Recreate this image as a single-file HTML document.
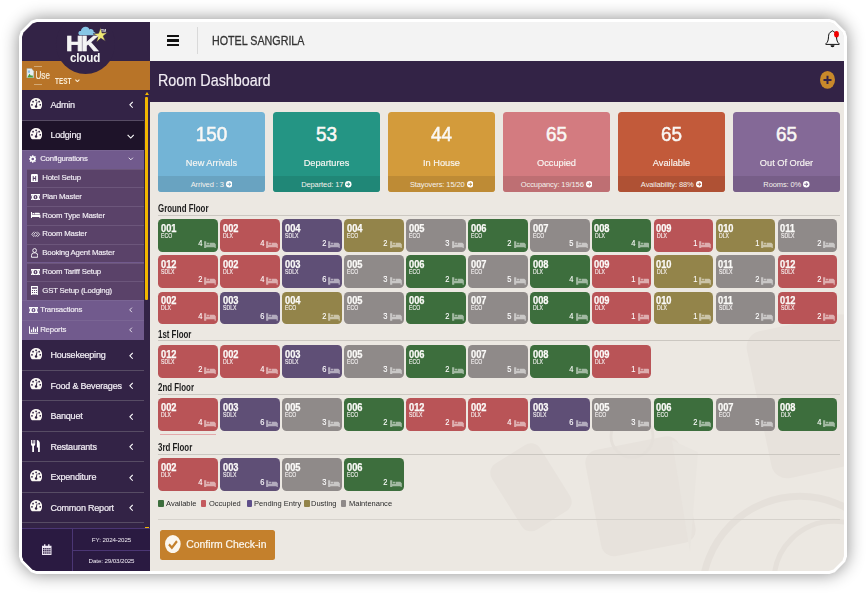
<!DOCTYPE html>
<html><head><meta charset="utf-8"><title>Room Dashboard</title>
<style>
*{box-sizing:border-box;margin:0;padding:0}
html,body{width:866px;height:593px;overflow:hidden;background:#fff;font-family:"Liberation Sans",sans-serif}
.shadow{position:absolute;left:0;top:0;width:866px;height:593px;filter:drop-shadow(0 0 8.5px rgba(0,0,0,.46))}
.outer{position:absolute;left:19px;top:19px;width:828px;height:555px;background:#fff;clip-path:polygon(0.0px 17.5px,1.8px 12.2px,12.2px 1.8px,17.5px 0.0px,810.5px 0.0px,815.8px 1.8px,826.2px 12.2px,828.0px 17.5px,828.0px 537.5px,826.2px 542.8px,815.8px 553.2px,810.5px 555.0px,17.5px 555.0px,12.2px 553.2px,1.8px 542.8px,0.0px 537.5px)}
.frame{position:absolute;left:3px;top:3px;width:822px;height:549px;overflow:hidden;background:#ece8e2;clip-path:polygon(0.0px 15.0px,1.5px 10.5px,10.5px 1.5px,15.0px 0.0px,807.0px 0.0px,811.5px 1.5px,820.5px 10.5px,822.0px 15.0px,822.0px 534.0px,820.5px 538.5px,811.5px 547.5px,807.0px 549.0px,15.0px 549.0px,10.5px 547.5px,1.5px 538.5px,0.0px 534.0px)}
.in{position:absolute;left:-22px;top:-22px;width:866px;height:593px}
.in>*{position:absolute}
.side{left:22px;top:22px;width:128px;height:549px;background:#332346}
.topbar{left:150px;top:22px;width:694px;height:38.500px;background:#f3f3f3}
.titlebar{left:150px;top:60.500px;width:694px;height:41.200px;background:#332346}
.userband{left:22px;top:60.500px;width:128px;height:29px;background:#b87428}
.logoc{left:55.500px;top:14.300px;width:59.600px;height:59.600px;border-radius:50%;background:#332346}
.hk{left:65.600px;top:33.200px;font-weight:bold;font-size:22px;line-height:22px;color:#f4f4f4;letter-spacing:-1.700px;transform:scaleX(1.08);transform-origin:0 0;-webkit-text-stroke:.7px #f4f4f4}
.cloudt{left:69.600px;top:51px;font-weight:bold;font-size:13.400px;line-height:14px;color:#f4f4f4;letter-spacing:-.2px;transform:scaleX(.87);transform-origin:0 0}
.tm{left:101px;top:28.500px;font-size:3.500px;line-height:4px;color:#eee;font-weight:bold}
.use{left:26.400px;top:66px;width:28.700px;height:18px;overflow:hidden;color:#f6ecd9;font-size:10px;line-height:20px;white-space:nowrap;-webkit-text-stroke:.2px #f6ecd9;transform:scaleX(.82);transform-origin:0 0}
.useb{left:34px;width:7.500px;height:1px;background:#d9b88a;opacity:.8}
.use svg{width:12.500px;height:10.500px;vertical-align:.8px;margin-right:0;margin-left:-1px}
.test{left:55.100px;top:75.900px;color:#fbeed8;font-size:9px;font-weight:bold;line-height:11px;transform:scaleX(.71);transform-origin:0 0;white-space:nowrap}
.testc{left:75px;top:79px;width:4.800px;height:3.300px}
.mi{left:22px;width:122px;color:#fff}
.mi span{position:absolute;left:28.400px;top:50%;margin-top:-5.700px;font-size:9px;line-height:12px;white-space:nowrap;letter-spacing:-.2px;color:#f2eef5;-webkit-text-stroke:.2px #f2eef5}
.dash{position:absolute;left:8.200px;top:50%;margin-top:-7px;width:12.200px;height:11.700px}
.mi .chv{position:absolute;right:10.800px;top:50%;margin-top:-3.300px;width:4.600px;height:7.600px}
.msep{left:22px;width:122px;height:1px;background:#574c64}
.subbg{position:absolute;left:22px;top:149.500px;width:122px;height:190.500px;background:#715a8d}
.st,.si{color:#fff;font-size:7.800px;letter-spacing:-.2px;-webkit-text-stroke:.15px #f3eff6}
.st{left:22px;width:122px;border-top:1px solid #7a6594}
.si{left:26.700px;width:117.300px;background:#5a4269;border-top:1px solid #6c567b}
.st span,.si span{position:absolute;top:50%;margin-top:-5.300px;line-height:10px;white-space:nowrap;color:#f3eff6}
.st span{left:18.200px} .si span{left:15.600px}
.st em,.si em{position:absolute;top:50%;margin-top:-4.500px;height:8px;width:12px;display:block}
.st em{left:6.500px} .si em{left:4.500px}
.st em svg,.si em svg{width:7.500px;height:8px;display:block}
.schv{position:absolute;right:10.300px;top:50%;margin-top:-2.400px;width:5.600px;height:3.800px}
.sbtrack{left:144px;top:89.500px;width:6px;height:439px;background:#332346}
.sbthumb{left:145.300px;top:97px;width:3.200px;height:203px;background:#f2b600;border-radius:1px}
.sbup{left:144.800px;top:91.500px;width:0;height:0;border-left:2.200px solid transparent;border-right:2.200px solid transparent;border-bottom:3.500px solid #f2b600}
.sbdn{left:145px;top:526.500px;width:4px;height:1.500px;background:#f2b600}
.bot{left:22px;top:528.400px;width:128px;height:43px;background:#2a1a41;border-top:1px solid #4b3674}
.botv{left:72.300px;top:528.400px;width:1px;height:43px;background:#4b3674}
.both{left:72.300px;top:550px;width:78px;height:1px;background:#4b3674}
.bt{left:73px;width:77px;text-align:center;color:#f0ecf4;font-size:6.200px;line-height:8px;letter-spacing:-.1px}
.cal{left:42.300px;top:543.500px;width:9.500px;height:11.500px}
.ham{left:166.700px;top:34.700px;width:12.800px;height:11.800px}
.ham i{display:block;height:2.600px;background:#111;margin-bottom:2px;border-radius:.3px}
.tdiv{left:197px;top:27px;width:1px;height:26.500px;background:#d9d9d9}
.hotel{left:212.300px;top:33.800px;font-size:13px;line-height:14px;color:#333;white-space:nowrap;-webkit-text-stroke:.3px #333;transform:scaleX(.824);transform-origin:0 0}
.title{left:158px;top:70px;font-size:16.200px;line-height:20px;color:#f3eef5;white-space:nowrap;transform:scaleX(.887);transform-origin:0 0;-webkit-text-stroke:.15px #f3eef5}
.bell{left:825px;top:30.400px;width:15px;height:18px}
.plus{left:819.700px;top:71px;width:15px;height:17.800px}
.card{top:111.800px;width:107px;height:80.200px;border-radius:3.500px;overflow:hidden;color:#fff;text-align:center}
.num{position:absolute;left:0;right:0;top:9px;font-size:21px;line-height:26px;color:#faf8f5;transform:scaleX(.90);-webkit-text-stroke:.55px #faf8f5}
.lab{position:absolute;left:0;right:0;top:44px;font-size:9.400px;line-height:13px;color:#f8f6f2;transform:scaleX(.985);-webkit-text-stroke:.15px #f8f6f2}
.foot{position:absolute;left:0;right:0;bottom:0;height:16px;line-height:18.400px;font-size:7.500px}
.foot span{color:#f4f1ec;vertical-align:top;letter-spacing:-.1px}
.arr{width:6.500px;height:6.500px;vertical-align:-.7px;margin-left:2px}
.fh{left:158px;font-weight:bold;font-size:10px;line-height:12px;color:#1c1c1c;white-space:nowrap;transform:scaleX(.79);transform-origin:0 0}
.hl{left:158px;width:682px;height:1px;background:#cbc7c1}
.tile{width:59.800px;height:32.800px;border-radius:4.500px;color:#fff}
.tile b{position:absolute;left:2.800px;top:3.800px;font-size:10px;line-height:11px;color:#fbfaf8;transform:scaleX(.93);transform-origin:0 0;-webkit-text-stroke:.25px #fbfaf8}
.tile i{position:absolute;left:3px;top:12.700px;font-style:normal;font-size:6.700px;line-height:7px;color:#f8f5f5;transform:scaleX(.77);transform-origin:0 0;-webkit-text-stroke:.12px #f8f5f5}
.tile span{position:absolute;right:15.800px;top:21px;font-size:8.200px;line-height:8px;color:#fff;transform:scaleX(.92);transform-origin:100% 0;-webkit-text-stroke:.1px #fff}
.bed{position:absolute;right:2.100px;top:21.500px;width:11.900px;height:7.800px;fill:#fff;opacity:.52}
.leg{top:498.200px;font-size:8px;line-height:11px;color:#2c2c2c;white-space:nowrap;transform:scaleX(.94);transform-origin:0 0}
.lsq{top:500.200px;width:5.400px;height:6.500px;border-radius:1px}
.btn{left:160px;top:529.800px;width:114.800px;height:30px;background:#c4802c;border-radius:2.500px}
.btn span{position:absolute;left:26.200px;top:8.500px;font-size:10.400px;line-height:13px;color:#fbf6ee;white-space:nowrap;letter-spacing:0;-webkit-text-stroke:.2px #fbf6ee}
.btn svg{position:absolute;left:5.300px;top:5px;width:15.700px;height:18.200px}
.pinkl{left:160px;top:433.900px;width:55.600px;height:1.200px;background:#e3a9ab}
.bgs{left:150px;top:101.700px;width:694px;height:470px;overflow:hidden}
</style></head><body>
<div class="shadow"><div class="outer"><div class="frame"><div class="in">
<svg class="bgs" viewBox="150 101.700 694 470">
<g fill="#e7e2dc">
<rect x="502.500" y="448" width="57" height="78" rx="11" transform="rotate(-32 531 487)"/>
<rect x="592.500" y="442" width="96" height="108" rx="13" transform="rotate(-11 640.500 496)"/>
<rect x="758" y="321" width="112" height="150" rx="16" transform="rotate(-12 814 396)"/>
</g>
<path d="M672 440 L698 452 L690 552 Z" fill="#e9e5df"/>
<g fill="none" stroke="#e5e0da">
<circle cx="632" cy="436" r="21" stroke-width="2.800"/>
<circle cx="800" cy="594" r="98" stroke-width="7"/>
<circle cx="834" cy="581" r="60" stroke-width="5"/>
</g>
</svg>
<div class="side"></div>
<div class="topbar"></div>
<div class="titlebar"></div>
<div class="userband"></div>
<div class="logoc"></div>
<svg style="left:76.800px;top:24px;width:34px;height:24px" viewBox="76 24 34 24">
<path d="M79.500 35.200c-1.600 0-2.500-1.400-2-2.700.4-1.100 1.400-1.600 2.400-1.400.2-2.600 2.400-4.400 4.800-4.300 1.900.1 3.300 1.200 3.900 2.700 1-.6 2.300-.5 3.200.3.700.6 1 1.400.9 2.200 1.300.1 2.200 1 2.200 2 0 .7-.6 1.200-1.300 1.200z" fill="#87c6e6"/>
<path d="M99.600 27.600l1.500 5.400 5.500-.4-4.400 3.500 2.300 5.200-4.700-3-4.200 3.800 1.300-5.600-4.900-2.700 5.600-.6z" fill="#efe873" stroke="#332346" stroke-width=".6"/>
</svg>
<div class="hk">HK</div>
<div class="cloudt">cloud</div>
<div class="tm">TM</div>
<div class="use"><svg viewBox="0 0 18 20"><path d="M1 1h11l5 5v13H1z" fill="#e8eef0" stroke="#9aa" stroke-width="1"/><path d="M2 18l5-7 4 4 2-2 3 5z" fill="#4a9a3a"/><circle cx="6" cy="7" r="2.500" fill="#8bc0ea"/></svg>User</div>
<div class="test">TEST</div><svg class="testc" viewBox="0 0 12 8"><path d="M1 1.500 6 6.500l5-5" fill="none" stroke="#fbeed8" stroke-width="2.600"/></svg><div class="useb" style="top:65.800px"></div><div class="useb" style="top:83.500px"></div>
<div class="mi" style="top:89.5px;height:30px;background:#332346"><svg class="dash" viewBox="0 0 24 23"><path d="M12 0C5.400 0 0 5.400 0 12.500c0 3 .9 5.700 2.400 8 .4.900 1.100 1.500 2 1.500h15.200c.9 0 1.600-.6 2-1.500 1.500-2.300 2.400-5 2.400-8C24 5.400 18.600 0 12 0z" fill="#fbf8f4"/><g fill="#2b1b3b"><circle cx="12" cy="4.600" r="1.700"/><circle cx="6" cy="7.200" r="1.700"/><circle cx="18" cy="7.200" r="1.700"/><circle cx="3.900" cy="13.400" r="1.700"/><circle cx="20.100" cy="13.400" r="1.700"/><circle cx="12" cy="16.600" r="2.400"/><path d="M11 16 13.300 6.800l1.500.4L13 16.800z"/></g></svg><span>Admin</span><svg class="chv" viewBox="0 0 8 12"><path d="M6.500 1 1.500 6l5 5" fill="none" stroke="#fff" stroke-width="1.800"/></svg></div>
<div class="mi" style="top:120.5px;height:29px;background:#1e1329"><svg class="dash" viewBox="0 0 24 23"><path d="M12 0C5.400 0 0 5.400 0 12.500c0 3 .9 5.700 2.400 8 .4.900 1.100 1.500 2 1.500h15.200c.9 0 1.600-.6 2-1.500 1.500-2.300 2.400-5 2.400-8C24 5.400 18.600 0 12 0z" fill="#fbf8f4"/><g fill="#2b1b3b"><circle cx="12" cy="4.600" r="1.700"/><circle cx="6" cy="7.200" r="1.700"/><circle cx="18" cy="7.200" r="1.700"/><circle cx="3.900" cy="13.400" r="1.700"/><circle cx="20.100" cy="13.400" r="1.700"/><circle cx="12" cy="16.600" r="2.400"/><path d="M11 16 13.300 6.800l1.500.4L13 16.800z"/></g></svg><span>Lodging</span><svg class="chv" style="width:7.400px;height:5px;margin-top:-1.500px;right:9.600px" viewBox="0 0 12 8"><path d="M1 1.500 6 6.500l5-5" fill="none" stroke="#fff" stroke-width="1.800"/></svg></div>
<div class="mi" style="top:339.7px;height:30.5px;background:#332346"><svg class="dash" viewBox="0 0 24 23"><path d="M12 0C5.400 0 0 5.400 0 12.500c0 3 .9 5.700 2.400 8 .4.900 1.100 1.500 2 1.500h15.200c.9 0 1.600-.6 2-1.500 1.500-2.300 2.400-5 2.400-8C24 5.400 18.600 0 12 0z" fill="#fbf8f4"/><g fill="#2b1b3b"><circle cx="12" cy="4.600" r="1.700"/><circle cx="6" cy="7.200" r="1.700"/><circle cx="18" cy="7.200" r="1.700"/><circle cx="3.900" cy="13.400" r="1.700"/><circle cx="20.100" cy="13.400" r="1.700"/><circle cx="12" cy="16.600" r="2.400"/><path d="M11 16 13.300 6.800l1.500.4L13 16.800z"/></g></svg><span>Housekeeping</span><svg class="chv" viewBox="0 0 8 12"><path d="M6.500 1 1.500 6l5 5" fill="none" stroke="#fff" stroke-width="1.800"/></svg></div>
<div class="mi" style="top:370.2px;height:30.4px;background:#332346"><svg class="dash" viewBox="0 0 24 23"><path d="M12 0C5.400 0 0 5.400 0 12.500c0 3 .9 5.700 2.400 8 .4.900 1.100 1.500 2 1.500h15.200c.9 0 1.600-.6 2-1.500 1.500-2.300 2.400-5 2.400-8C24 5.400 18.600 0 12 0z" fill="#fbf8f4"/><g fill="#2b1b3b"><circle cx="12" cy="4.600" r="1.700"/><circle cx="6" cy="7.200" r="1.700"/><circle cx="18" cy="7.200" r="1.700"/><circle cx="3.900" cy="13.400" r="1.700"/><circle cx="20.100" cy="13.400" r="1.700"/><circle cx="12" cy="16.600" r="2.400"/><path d="M11 16 13.300 6.800l1.500.4L13 16.800z"/></g></svg><span>Food &amp; Beverages</span><svg class="chv" viewBox="0 0 8 12"><path d="M6.500 1 1.500 6l5 5" fill="none" stroke="#fff" stroke-width="1.800"/></svg></div>
<div class="mi" style="top:400.6px;height:30.5px;background:#332346"><svg class="dash" viewBox="0 0 24 23"><path d="M12 0C5.400 0 0 5.400 0 12.500c0 3 .9 5.700 2.400 8 .4.900 1.100 1.500 2 1.500h15.200c.9 0 1.600-.6 2-1.500 1.500-2.300 2.400-5 2.400-8C24 5.400 18.600 0 12 0z" fill="#fbf8f4"/><g fill="#2b1b3b"><circle cx="12" cy="4.600" r="1.700"/><circle cx="6" cy="7.200" r="1.700"/><circle cx="18" cy="7.200" r="1.700"/><circle cx="3.900" cy="13.400" r="1.700"/><circle cx="20.100" cy="13.400" r="1.700"/><circle cx="12" cy="16.600" r="2.400"/><path d="M11 16 13.300 6.800l1.500.4L13 16.800z"/></g></svg><span>Banquet</span><svg class="chv" viewBox="0 0 8 12"><path d="M6.500 1 1.500 6l5 5" fill="none" stroke="#fff" stroke-width="1.800"/></svg></div>
<div class="mi" style="top:431.1px;height:30.5px;background:#332346"><svg class="dash" style="width:9.800px;left:8.500px;height:14px;margin-top:-7.400px" viewBox="0 0 20 24"><path d="M0 0h1.800v7h1.600V0h1.800v7h1.600V0H8.600v8.500c0 1.700-1 3-2.500 3.400V24H2.500V11.900C1 11.500 0 10.200 0 8.500zM12 0c3.500 0 6 2.500 6 7v17h-3.600v-9H12z" fill="#fff"/></svg><span>Restaurants</span><svg class="chv" viewBox="0 0 8 12"><path d="M6.500 1 1.500 6l5 5" fill="none" stroke="#fff" stroke-width="1.800"/></svg></div>
<div class="mi" style="top:461.6px;height:30.5px;background:#332346"><svg class="dash" viewBox="0 0 24 23"><path d="M12 0C5.400 0 0 5.400 0 12.500c0 3 .9 5.700 2.400 8 .4.900 1.100 1.500 2 1.500h15.200c.9 0 1.600-.6 2-1.500 1.500-2.300 2.400-5 2.400-8C24 5.400 18.600 0 12 0z" fill="#fbf8f4"/><g fill="#2b1b3b"><circle cx="12" cy="4.600" r="1.700"/><circle cx="6" cy="7.200" r="1.700"/><circle cx="18" cy="7.200" r="1.700"/><circle cx="3.900" cy="13.400" r="1.700"/><circle cx="20.100" cy="13.400" r="1.700"/><circle cx="12" cy="16.600" r="2.400"/><path d="M11 16 13.300 6.800l1.500.4L13 16.800z"/></g></svg><span>Expenditure</span><svg class="chv" viewBox="0 0 8 12"><path d="M6.500 1 1.500 6l5 5" fill="none" stroke="#fff" stroke-width="1.800"/></svg></div>
<div class="mi" style="top:492.1px;height:30.2px;background:#332346"><svg class="dash" viewBox="0 0 24 23"><path d="M12 0C5.400 0 0 5.400 0 12.500c0 3 .9 5.700 2.400 8 .4.900 1.100 1.500 2 1.500h15.200c.9 0 1.600-.6 2-1.500 1.500-2.300 2.400-5 2.400-8C24 5.400 18.600 0 12 0z" fill="#fbf8f4"/><g fill="#2b1b3b"><circle cx="12" cy="4.600" r="1.700"/><circle cx="6" cy="7.200" r="1.700"/><circle cx="18" cy="7.200" r="1.700"/><circle cx="3.900" cy="13.400" r="1.700"/><circle cx="20.100" cy="13.400" r="1.700"/><circle cx="12" cy="16.600" r="2.400"/><path d="M11 16 13.300 6.800l1.500.4L13 16.800z"/></g></svg><span>Common Report</span><svg class="chv" viewBox="0 0 8 12"><path d="M6.500 1 1.500 6l5 5" fill="none" stroke="#fff" stroke-width="1.800"/></svg></div>
<div class="msep" style="top:119.500px"></div><div class="msep" style="top:369.7px"></div><div class="msep" style="top:400.1px"></div><div class="msep" style="top:430.6px"></div><div class="msep" style="top:461.1px"></div><div class="msep" style="top:491.6px"></div><div class="msep" style="top:521.8px"></div>
<div class="subbg"></div><div class="st" style="top:149.5px;height:19px"><em><svg viewBox="0 0 16 16"><path fill="#fff" d="M6.700 0h2.600l.4 2.100 1.300.6 1.800-1.200 1.800 1.800-1.200 1.800.6 1.300 2.100.4v2.600l-2.100.4-.6 1.300 1.200 1.800-1.800 1.800-1.800-1.200-1.300.6L9.300 16H6.700l-.4-2.100-1.300-.6-1.800 1.200-1.800-1.800 1.200-1.800-.6-1.300L0 9.300V6.700l2.100-.4.600-1.300-1.200-1.800 1.800-1.800 1.800 1.200 1.300-.6zM8 5.200a2.800 2.800 0 1 0 0 5.600 2.800 2.800 0 0 0 0-5.600z"/></svg></em><span>Configurations</span><svg class="schv" viewBox="0 0 12 8"><path d="M1.500 1.500 6 6l4.500-4.500" fill="none" stroke="#fff" stroke-width="1.800"/></svg></div>
<div class="si" style="top:168.5px;height:18.8px"><em><svg viewBox="0 0 16 16" preserveAspectRatio="none" style="width:6.900px;height:8.600px;margin-top:-.3px"><path fill="#fff" fill-rule="evenodd" d="M2.500 0h11A2.500 2.500 0 0 1 16 2.500v11a2.500 2.500 0 0 1-2.500 2.500h-11A2.500 2.500 0 0 1 0 13.500v-11A2.500 2.500 0 0 1 2.500 0zM4 3.500v9h2.200V9.200h3.600v3.300H12v-9H9.800v3.300H6.200V3.500z"/></svg></em><span>Hotel Setup</span></div>
<div class="si" style="top:187.3px;height:18.8px"><em><svg viewBox="0 0 20 14" style="width:9px;height:6.300px;margin-top:1px"><path fill="#fff" fill-rule="evenodd" d="M0 0h20v14H0zM2 2v10h3a5 5 0 0 1 0-10zM18 2h-3a5 5 0 0 1 0 10h3zM10 2.500a4.500 4.500 0 1 0 0 9 4.500 4.500 0 0 0 0-9zM9.200 4.500h1.600v5H9.200z"/></svg></em><span>Plan Master</span></div>
<div class="si" style="top:206.1px;height:18.8px"><em><svg viewBox="0 0 22 14" style="width:9.400px;height:6px;margin-top:1px"><path fill="#fff" d="M0 0h2.400v6.500H22V14h-2.400v-2.600H2.400V14H0zM3.600 2.200h4.200v3H3.600zM9 1.800h9a3 3 0 0 1 3 3v.4H9z"/></svg></em><span>Room Type Master</span></div>
<div class="si" style="top:224.9px;height:18.8px"><em><svg viewBox="0 0 20 14" style="width:9.400px;height:6.600px;margin-top:.7px"><path fill="none" stroke="#fff" stroke-width="1.600" d="M6.500 1.500 1.500 7l5 5.500M13.500 1.500l5 5.500-5 5.500M10 2.500 6 7l4 4.500L14 7z"/></svg></em><span>Room Master</span></div>
<div class="si" style="top:243.7px;height:18.8px"><em><svg viewBox="0 0 14 18" preserveAspectRatio="none" style="width:7.200px;height:9.800px;margin-top:-.8px"><path fill="none" stroke="#fff" stroke-width="1.700" d="M7 1a3.600 3.600 0 1 1 0 7.200A3.600 3.600 0 0 1 7 1zM1 17v-3.500A4.500 4.500 0 0 1 5.500 9h3A4.500 4.500 0 0 1 13 13.500V17z"/></svg></em><span>Booking Agent Master</span></div>
<div class="si" style="top:262.5px;height:18.8px"><em><svg viewBox="0 0 20 14" style="width:9px;height:6.300px;margin-top:1px"><path fill="#fff" fill-rule="evenodd" d="M0 0h20v14H0zM2 2v10h3a5 5 0 0 1 0-10zM18 2h-3a5 5 0 0 1 0 10h3zM10 2.500a4.500 4.500 0 1 0 0 9 4.500 4.500 0 0 0 0-9zM9.200 4.500h1.600v5H9.200z"/></svg></em><span>Room Tariff Setup</span></div>
<div class="si" style="top:281.3px;height:18.8px"><em><svg viewBox="0 0 14 16" preserveAspectRatio="none" style="width:6.900px;height:9px;margin-top:-.5px"><path fill="#fff" fill-rule="evenodd" d="M0 0h14v16H0zM2 2v3h10V2zM2 7v2h2V7zM6 7v2h2V7zM10 7v2h2V7zM2 10.500v2h2v-2zM6 10.500v2h2v-2zM10 10.500v2h2v-2zM2 14h10v1H2z"/></svg></em><span>GST Setup (Lodging)</span></div>
<div class="st" style="top:300.1px;height:19.7px"><em><svg viewBox="0 0 20 14" style="width:9px;height:6.300px;margin-top:1px"><path fill="#fff" fill-rule="evenodd" d="M0 0h20v14H0zM2 2v10h3a5 5 0 0 1 0-10zM18 2h-3a5 5 0 0 1 0 10h3zM10 2.500a4.500 4.500 0 1 0 0 9 4.500 4.500 0 0 0 0-9zM9.200 4.500h1.600v5H9.200z"/></svg></em><span>Transactions</span><svg class="schv" style="width:3.600px;height:5.800px;margin-top:-3.200px;right:11px" viewBox="0 0 8 12"><path d="M6.500 1 1.500 6l5 5" fill="none" stroke="#fff" stroke-width="1.800"/></svg></div>
<div class="st" style="top:319.8px;height:20.2px"><em><svg viewBox="0 0 18 14" style="width:9.500px"><path fill="#fff" d="M0 0h1.800v12.200H18V14H0zM3.600 6h2.400v5H3.600zM7.400 2h2.400v9H7.400zM11.200 4.500h2.400V11h-2.400zM15 1h2.400v10H15z"/></svg></em><span>Reports</span><svg class="schv" style="width:3.600px;height:5.800px;margin-top:-3.200px;right:11px" viewBox="0 0 8 12"><path d="M6.500 1 1.500 6l5 5" fill="none" stroke="#fff" stroke-width="1.800"/></svg></div>

<div class="sbtrack"></div><div class="sbup"></div><div class="sbthumb"></div><div class="sbdn"></div>
<div class="bot"></div><div class="botv"></div><div class="both"></div>
<svg class="cal" viewBox="0 0 14 16"><path fill="#efe9f5" fill-rule="evenodd" d="M3 0h2v2h4V0h2v2h3v14H0V2h3zM1.500 5.500v2h2.200v-2zM4.700 5.500v2h2v-2zM7.700 5.500v2h2v-2zM10.700 5.500v2h1.800v-2zM1.500 8.500v2h2.200v-2zM4.700 8.500v2h2v-2zM7.700 8.500v2h2v-2zM10.700 8.500v2h1.800v-2zM1.500 11.500v2.500h2.200v-2.500zM4.700 11.500v2.500h2v-2.500zM7.700 11.500v2.500h2v-2.500zM10.700 11.500v2.500h1.800v-2.500z"/></svg>
<div class="bt" style="top:536.300px">FY: 2024-2025</div>
<div class="bt" style="top:556.800px">Date: 29/03/2025</div>
<div class="ham"><i></i><i></i><i></i></div>
<div class="tdiv"></div>
<div class="hotel">HOTEL SANGRILA</div>
<svg class="bell" viewBox="0 0 15 18"><path d="M7.500 .8c-.5 0-.9.300-1 .8C4.300 2.300 3.600 4.300 3.500 6.800c-.1 3.400-.8 5.600-2.700 7v.6h13.400v-.6c-1.900-1.400-2.600-3.600-2.700-7C11.400 4.300 10.700 2.300 8.500 1.600c-.1-.5-.5-.8-1-.8z" fill="#f8f8f8" stroke="#111" stroke-width="1"/><path d="M5.500 15.200a2 2 0 0 0 4 0z" fill="#111"/><ellipse cx="11.500" cy="4.300" rx="2.400" ry="3.250" fill="#f20000"/></svg>
<div class="title">Room Dashboard</div>
<svg class="plus" viewBox="0 0 15 17.800"><ellipse cx="7.500" cy="8.900" rx="7.500" ry="8.900" fill="#c8882a"/><path d="M6.500 4.700h2v3.200h3v2h-3v3.200h-2V9.900h-3v-2h3z" fill="#33224a"/></svg>
<div class="card" style="left:158px;background:#73b4d6"><div class="num">150</div><div class="lab">New Arrivals</div><div class="foot" style="background:#69a3c1;color:#69a3c1"><span>Arrived : 3</span><svg class="arr" viewBox="0 0 16 16"><circle cx="8" cy="8" r="8" fill="#fff"/><path d="M8 3.2 12.8 8 8 12.8 6.7 11.5 9.2 9H3.2V7h6L6.7 4.5z" fill="currentColor"/></svg></div></div>
<div class="card" style="left:273px;background:#249584"><div class="num">53</div><div class="lab">Departures</div><div class="foot" style="background:#208777;color:#208777"><span>Departed: 17</span><svg class="arr" viewBox="0 0 16 16"><circle cx="8" cy="8" r="8" fill="#fff"/><path d="M8 3.2 12.8 8 8 12.8 6.7 11.5 9.2 9H3.2V7h6L6.7 4.5z" fill="currentColor"/></svg></div></div>
<div class="card" style="left:388px;background:#d39b3b"><div class="num">44</div><div class="lab">In House</div><div class="foot" style="background:#be8b35;color:#be8b35"><span>Stayovers: 15/20</span><svg class="arr" viewBox="0 0 16 16"><circle cx="8" cy="8" r="8" fill="#fff"/><path d="M8 3.2 12.8 8 8 12.8 6.7 11.5 9.2 9H3.2V7h6L6.7 4.5z" fill="currentColor"/></svg></div></div>
<div class="card" style="left:503px;background:#d37b80"><div class="num">65</div><div class="lab">Occupied</div><div class="foot" style="background:#be6f73;color:#be6f73"><span>Occupancy: 19/156</span><svg class="arr" viewBox="0 0 16 16"><circle cx="8" cy="8" r="8" fill="#fff"/><path d="M8 3.2 12.8 8 8 12.8 6.7 11.5 9.2 9H3.2V7h6L6.7 4.5z" fill="currentColor"/></svg></div></div>
<div class="card" style="left:618px;background:#c25a3a"><div class="num">65</div><div class="lab">Available</div><div class="foot" style="background:#af5134;color:#af5134"><span>Availability: 88%</span><svg class="arr" viewBox="0 0 16 16"><circle cx="8" cy="8" r="8" fill="#fff"/><path d="M8 3.2 12.8 8 8 12.8 6.7 11.5 9.2 9H3.2V7h6L6.7 4.5z" fill="currentColor"/></svg></div></div>
<div class="card" style="left:733px;background:#846997"><div class="num">65</div><div class="lab">Out Of Order</div><div class="foot" style="background:#775e88;color:#775e88"><span>Rooms: 0%</span><svg class="arr" viewBox="0 0 16 16"><circle cx="8" cy="8" r="8" fill="#fff"/><path d="M8 3.2 12.8 8 8 12.8 6.7 11.5 9.2 9H3.2V7h6L6.7 4.5z" fill="currentColor"/></svg></div></div>

<div class="fh" style="top:203.1px">Ground Floor</div><div class="hl" style="top:214.9px"></div>
<div class="fh" style="top:328.7px">1st Floor</div><div class="hl" style="top:339.7px"></div>
<div class="fh" style="top:382.1px">2nd Floor</div><div class="hl" style="top:393.7px"></div>
<div class="fh" style="top:442.2px">3rd Floor</div><div class="hl" style="top:453.8px"></div>

<div class="tile" style="left:158.2px;top:219.1px;background:#3d6e3d"><b>001</b><i>ECO</i><span>4</span><svg class="bed" viewBox="0 0 24 16"><path d="M0 .6h4.400V16H0zM5.600 3.800h5v3.400h-5zM11.600 3.800H21l3 3V16h-2.400v-3.400H4.400V8h7.200z"/></svg></div>
<div class="tile" style="left:220.1px;top:219.1px;background:#b95457"><b>002</b><i>DLX</i><span>4</span><svg class="bed" viewBox="0 0 24 16"><path d="M0 .6h4.400V16H0zM5.600 3.800h5v3.400h-5zM11.600 3.800H21l3 3V16h-2.400v-3.400H4.400V8h7.200z"/></svg></div>
<div class="tile" style="left:282.1px;top:219.1px;background:#5f4f76"><b>004</b><i>SDLX</i><span>2</span><svg class="bed" viewBox="0 0 24 16"><path d="M0 .6h4.400V16H0zM5.600 3.800h5v3.400h-5zM11.600 3.800H21l3 3V16h-2.400v-3.400H4.400V8h7.200z"/></svg></div>
<div class="tile" style="left:344.0px;top:219.1px;background:#93844a"><b>004</b><i>ECO</i><span>2</span><svg class="bed" viewBox="0 0 24 16"><path d="M0 .6h4.400V16H0zM5.600 3.800h5v3.400h-5zM11.600 3.800H21l3 3V16h-2.400v-3.400H4.400V8h7.200z"/></svg></div>
<div class="tile" style="left:405.9px;top:219.1px;background:#8f8a89"><b>005</b><i>ECO</i><span>3</span><svg class="bed" viewBox="0 0 24 16"><path d="M0 .6h4.400V16H0zM5.600 3.800h5v3.400h-5zM11.600 3.800H21l3 3V16h-2.400v-3.400H4.400V8h7.200z"/></svg></div>
<div class="tile" style="left:467.8px;top:219.1px;background:#3d6e3d"><b>006</b><i>ECO</i><span>2</span><svg class="bed" viewBox="0 0 24 16"><path d="M0 .6h4.400V16H0zM5.600 3.800h5v3.400h-5zM11.600 3.800H21l3 3V16h-2.400v-3.400H4.400V8h7.200z"/></svg></div>
<div class="tile" style="left:529.8px;top:219.1px;background:#8f8a89"><b>007</b><i>ECO</i><span>5</span><svg class="bed" viewBox="0 0 24 16"><path d="M0 .6h4.400V16H0zM5.600 3.800h5v3.400h-5zM11.600 3.800H21l3 3V16h-2.400v-3.400H4.400V8h7.200z"/></svg></div>
<div class="tile" style="left:591.7px;top:219.1px;background:#3d6e3d"><b>008</b><i>DLX</i><span>4</span><svg class="bed" viewBox="0 0 24 16"><path d="M0 .6h4.400V16H0zM5.600 3.800h5v3.400h-5zM11.600 3.800H21l3 3V16h-2.400v-3.400H4.400V8h7.200z"/></svg></div>
<div class="tile" style="left:653.6px;top:219.1px;background:#b95457"><b>009</b><i>DLX</i><span>1</span><svg class="bed" viewBox="0 0 24 16"><path d="M0 .6h4.400V16H0zM5.600 3.800h5v3.400h-5zM11.600 3.800H21l3 3V16h-2.400v-3.400H4.400V8h7.200z"/></svg></div>
<div class="tile" style="left:715.6px;top:219.1px;background:#93844a"><b>010</b><i>DLX</i><span>1</span><svg class="bed" viewBox="0 0 24 16"><path d="M0 .6h4.400V16H0zM5.600 3.800h5v3.400h-5zM11.600 3.800H21l3 3V16h-2.400v-3.400H4.400V8h7.200z"/></svg></div>
<div class="tile" style="left:777.5px;top:219.1px;background:#8f8a89"><b>011</b><i>SDLX</i><span>2</span><svg class="bed" viewBox="0 0 24 16"><path d="M0 .6h4.400V16H0zM5.600 3.800h5v3.400h-5zM11.600 3.800H21l3 3V16h-2.400v-3.400H4.400V8h7.200z"/></svg></div>
<div class="tile" style="left:158.2px;top:255.3px;background:#b95457"><b>012</b><i>SDLX</i><span>2</span><svg class="bed" viewBox="0 0 24 16"><path d="M0 .6h4.400V16H0zM5.600 3.800h5v3.400h-5zM11.600 3.800H21l3 3V16h-2.400v-3.400H4.400V8h7.200z"/></svg></div>
<div class="tile" style="left:220.1px;top:255.3px;background:#b95457"><b>002</b><i>DLX</i><span>4</span><svg class="bed" viewBox="0 0 24 16"><path d="M0 .6h4.400V16H0zM5.600 3.800h5v3.400h-5zM11.600 3.800H21l3 3V16h-2.400v-3.400H4.400V8h7.200z"/></svg></div>
<div class="tile" style="left:282.1px;top:255.3px;background:#5f4f76"><b>003</b><i>SDLX</i><span>6</span><svg class="bed" viewBox="0 0 24 16"><path d="M0 .6h4.400V16H0zM5.600 3.800h5v3.400h-5zM11.600 3.800H21l3 3V16h-2.400v-3.400H4.400V8h7.200z"/></svg></div>
<div class="tile" style="left:344.0px;top:255.3px;background:#8f8a89"><b>005</b><i>ECO</i><span>3</span><svg class="bed" viewBox="0 0 24 16"><path d="M0 .6h4.400V16H0zM5.600 3.800h5v3.400h-5zM11.600 3.800H21l3 3V16h-2.400v-3.400H4.400V8h7.200z"/></svg></div>
<div class="tile" style="left:405.9px;top:255.3px;background:#3d6e3d"><b>006</b><i>ECO</i><span>2</span><svg class="bed" viewBox="0 0 24 16"><path d="M0 .6h4.400V16H0zM5.600 3.800h5v3.400h-5zM11.600 3.800H21l3 3V16h-2.400v-3.400H4.400V8h7.200z"/></svg></div>
<div class="tile" style="left:467.8px;top:255.3px;background:#8f8a89"><b>007</b><i>ECO</i><span>5</span><svg class="bed" viewBox="0 0 24 16"><path d="M0 .6h4.400V16H0zM5.600 3.800h5v3.400h-5zM11.600 3.800H21l3 3V16h-2.400v-3.400H4.400V8h7.200z"/></svg></div>
<div class="tile" style="left:529.8px;top:255.3px;background:#3d6e3d"><b>008</b><i>DLX</i><span>4</span><svg class="bed" viewBox="0 0 24 16"><path d="M0 .6h4.400V16H0zM5.600 3.800h5v3.400h-5zM11.600 3.800H21l3 3V16h-2.400v-3.400H4.400V8h7.200z"/></svg></div>
<div class="tile" style="left:591.7px;top:255.3px;background:#b95457"><b>009</b><i>DLX</i><span>1</span><svg class="bed" viewBox="0 0 24 16"><path d="M0 .6h4.400V16H0zM5.600 3.800h5v3.400h-5zM11.600 3.800H21l3 3V16h-2.400v-3.400H4.400V8h7.200z"/></svg></div>
<div class="tile" style="left:653.6px;top:255.3px;background:#93844a"><b>010</b><i>DLX</i><span>1</span><svg class="bed" viewBox="0 0 24 16"><path d="M0 .6h4.400V16H0zM5.600 3.800h5v3.400h-5zM11.600 3.800H21l3 3V16h-2.400v-3.400H4.400V8h7.200z"/></svg></div>
<div class="tile" style="left:715.6px;top:255.3px;background:#8f8a89"><b>011</b><i>SDLX</i><span>2</span><svg class="bed" viewBox="0 0 24 16"><path d="M0 .6h4.400V16H0zM5.600 3.800h5v3.400h-5zM11.600 3.800H21l3 3V16h-2.400v-3.400H4.400V8h7.200z"/></svg></div>
<div class="tile" style="left:777.5px;top:255.3px;background:#b95457"><b>012</b><i>SDLX</i><span>2</span><svg class="bed" viewBox="0 0 24 16"><path d="M0 .6h4.400V16H0zM5.600 3.800h5v3.400h-5zM11.600 3.800H21l3 3V16h-2.400v-3.400H4.400V8h7.200z"/></svg></div>
<div class="tile" style="left:158.2px;top:291.5px;background:#b95457"><b>002</b><i>DLX</i><span>4</span><svg class="bed" viewBox="0 0 24 16"><path d="M0 .6h4.400V16H0zM5.600 3.800h5v3.400h-5zM11.600 3.800H21l3 3V16h-2.400v-3.400H4.400V8h7.200z"/></svg></div>
<div class="tile" style="left:220.1px;top:291.5px;background:#5f4f76"><b>003</b><i>SDLX</i><span>6</span><svg class="bed" viewBox="0 0 24 16"><path d="M0 .6h4.400V16H0zM5.600 3.800h5v3.400h-5zM11.600 3.800H21l3 3V16h-2.400v-3.400H4.400V8h7.200z"/></svg></div>
<div class="tile" style="left:282.1px;top:291.5px;background:#93844a"><b>004</b><i>ECO</i><span>2</span><svg class="bed" viewBox="0 0 24 16"><path d="M0 .6h4.400V16H0zM5.600 3.800h5v3.400h-5zM11.600 3.800H21l3 3V16h-2.400v-3.400H4.400V8h7.200z"/></svg></div>
<div class="tile" style="left:344.0px;top:291.5px;background:#8f8a89"><b>005</b><i>ECO</i><span>3</span><svg class="bed" viewBox="0 0 24 16"><path d="M0 .6h4.400V16H0zM5.600 3.800h5v3.400h-5zM11.600 3.800H21l3 3V16h-2.400v-3.400H4.400V8h7.200z"/></svg></div>
<div class="tile" style="left:405.9px;top:291.5px;background:#3d6e3d"><b>006</b><i>ECO</i><span>2</span><svg class="bed" viewBox="0 0 24 16"><path d="M0 .6h4.400V16H0zM5.600 3.800h5v3.400h-5zM11.600 3.800H21l3 3V16h-2.400v-3.400H4.400V8h7.200z"/></svg></div>
<div class="tile" style="left:467.8px;top:291.5px;background:#8f8a89"><b>007</b><i>ECO</i><span>5</span><svg class="bed" viewBox="0 0 24 16"><path d="M0 .6h4.400V16H0zM5.600 3.800h5v3.400h-5zM11.600 3.800H21l3 3V16h-2.400v-3.400H4.400V8h7.200z"/></svg></div>
<div class="tile" style="left:529.8px;top:291.5px;background:#3d6e3d"><b>008</b><i>DLX</i><span>4</span><svg class="bed" viewBox="0 0 24 16"><path d="M0 .6h4.400V16H0zM5.600 3.800h5v3.400h-5zM11.600 3.800H21l3 3V16h-2.400v-3.400H4.400V8h7.200z"/></svg></div>
<div class="tile" style="left:591.7px;top:291.5px;background:#b95457"><b>009</b><i>DLX</i><span>1</span><svg class="bed" viewBox="0 0 24 16"><path d="M0 .6h4.400V16H0zM5.600 3.800h5v3.400h-5zM11.600 3.800H21l3 3V16h-2.400v-3.400H4.400V8h7.200z"/></svg></div>
<div class="tile" style="left:653.6px;top:291.5px;background:#93844a"><b>010</b><i>DLX</i><span>1</span><svg class="bed" viewBox="0 0 24 16"><path d="M0 .6h4.400V16H0zM5.600 3.800h5v3.400h-5zM11.600 3.800H21l3 3V16h-2.400v-3.400H4.400V8h7.200z"/></svg></div>
<div class="tile" style="left:715.6px;top:291.5px;background:#8f8a89"><b>011</b><i>SDLX</i><span>2</span><svg class="bed" viewBox="0 0 24 16"><path d="M0 .6h4.400V16H0zM5.600 3.800h5v3.400h-5zM11.600 3.800H21l3 3V16h-2.400v-3.400H4.400V8h7.200z"/></svg></div>
<div class="tile" style="left:777.5px;top:291.5px;background:#b95457"><b>012</b><i>SDLX</i><span>2</span><svg class="bed" viewBox="0 0 24 16"><path d="M0 .6h4.400V16H0zM5.600 3.800h5v3.400h-5zM11.600 3.800H21l3 3V16h-2.400v-3.400H4.400V8h7.200z"/></svg></div>
<div class="tile" style="left:158.2px;top:345.1px;background:#b95457"><b>012</b><i>SDLX</i><span>2</span><svg class="bed" viewBox="0 0 24 16"><path d="M0 .6h4.400V16H0zM5.600 3.800h5v3.400h-5zM11.600 3.800H21l3 3V16h-2.400v-3.400H4.400V8h7.200z"/></svg></div>
<div class="tile" style="left:220.1px;top:345.1px;background:#b95457"><b>002</b><i>DLX</i><span>4</span><svg class="bed" viewBox="0 0 24 16"><path d="M0 .6h4.400V16H0zM5.600 3.800h5v3.400h-5zM11.600 3.800H21l3 3V16h-2.400v-3.400H4.400V8h7.200z"/></svg></div>
<div class="tile" style="left:282.1px;top:345.1px;background:#5f4f76"><b>003</b><i>SDLX</i><span>6</span><svg class="bed" viewBox="0 0 24 16"><path d="M0 .6h4.400V16H0zM5.600 3.800h5v3.400h-5zM11.600 3.800H21l3 3V16h-2.400v-3.400H4.400V8h7.200z"/></svg></div>
<div class="tile" style="left:344.0px;top:345.1px;background:#8f8a89"><b>005</b><i>ECO</i><span>3</span><svg class="bed" viewBox="0 0 24 16"><path d="M0 .6h4.400V16H0zM5.600 3.800h5v3.400h-5zM11.600 3.800H21l3 3V16h-2.400v-3.400H4.400V8h7.200z"/></svg></div>
<div class="tile" style="left:405.9px;top:345.1px;background:#3d6e3d"><b>006</b><i>ECO</i><span>2</span><svg class="bed" viewBox="0 0 24 16"><path d="M0 .6h4.400V16H0zM5.600 3.800h5v3.400h-5zM11.600 3.800H21l3 3V16h-2.400v-3.400H4.400V8h7.200z"/></svg></div>
<div class="tile" style="left:467.8px;top:345.1px;background:#8f8a89"><b>007</b><i>ECO</i><span>5</span><svg class="bed" viewBox="0 0 24 16"><path d="M0 .6h4.400V16H0zM5.600 3.800h5v3.400h-5zM11.600 3.800H21l3 3V16h-2.400v-3.400H4.400V8h7.200z"/></svg></div>
<div class="tile" style="left:529.8px;top:345.1px;background:#3d6e3d"><b>008</b><i>DLX</i><span>4</span><svg class="bed" viewBox="0 0 24 16"><path d="M0 .6h4.400V16H0zM5.600 3.800h5v3.400h-5zM11.600 3.800H21l3 3V16h-2.400v-3.400H4.400V8h7.200z"/></svg></div>
<div class="tile" style="left:591.7px;top:345.1px;background:#b95457"><b>009</b><i>DLX</i><span>1</span><svg class="bed" viewBox="0 0 24 16"><path d="M0 .6h4.400V16H0zM5.600 3.800h5v3.400h-5zM11.600 3.800H21l3 3V16h-2.400v-3.400H4.400V8h7.200z"/></svg></div>
<div class="tile" style="left:158.2px;top:398.2px;background:#b95457"><b>002</b><i>DLX</i><span>4</span><svg class="bed" viewBox="0 0 24 16"><path d="M0 .6h4.400V16H0zM5.600 3.800h5v3.400h-5zM11.600 3.800H21l3 3V16h-2.400v-3.400H4.400V8h7.200z"/></svg></div>
<div class="tile" style="left:220.1px;top:398.2px;background:#5f4f76"><b>003</b><i>SDLX</i><span>6</span><svg class="bed" viewBox="0 0 24 16"><path d="M0 .6h4.400V16H0zM5.600 3.800h5v3.400h-5zM11.600 3.800H21l3 3V16h-2.400v-3.400H4.400V8h7.200z"/></svg></div>
<div class="tile" style="left:282.1px;top:398.2px;background:#8f8a89"><b>005</b><i>ECO</i><span>3</span><svg class="bed" viewBox="0 0 24 16"><path d="M0 .6h4.400V16H0zM5.600 3.800h5v3.400h-5zM11.600 3.800H21l3 3V16h-2.400v-3.400H4.400V8h7.200z"/></svg></div>
<div class="tile" style="left:344.0px;top:398.2px;background:#3d6e3d"><b>006</b><i>ECO</i><span>2</span><svg class="bed" viewBox="0 0 24 16"><path d="M0 .6h4.400V16H0zM5.600 3.800h5v3.400h-5zM11.600 3.800H21l3 3V16h-2.400v-3.400H4.400V8h7.200z"/></svg></div>
<div class="tile" style="left:405.9px;top:398.2px;background:#b95457"><b>012</b><i>SDLX</i><span>2</span><svg class="bed" viewBox="0 0 24 16"><path d="M0 .6h4.400V16H0zM5.600 3.800h5v3.400h-5zM11.600 3.800H21l3 3V16h-2.400v-3.400H4.400V8h7.200z"/></svg></div>
<div class="tile" style="left:467.8px;top:398.2px;background:#b95457"><b>002</b><i>DLX</i><span>4</span><svg class="bed" viewBox="0 0 24 16"><path d="M0 .6h4.400V16H0zM5.600 3.800h5v3.400h-5zM11.600 3.800H21l3 3V16h-2.400v-3.400H4.400V8h7.200z"/></svg></div>
<div class="tile" style="left:529.8px;top:398.2px;background:#5f4f76"><b>003</b><i>SDLX</i><span>6</span><svg class="bed" viewBox="0 0 24 16"><path d="M0 .6h4.400V16H0zM5.600 3.800h5v3.400h-5zM11.600 3.800H21l3 3V16h-2.400v-3.400H4.400V8h7.200z"/></svg></div>
<div class="tile" style="left:591.7px;top:398.2px;background:#8f8a89"><b>005</b><i>ECO</i><span>3</span><svg class="bed" viewBox="0 0 24 16"><path d="M0 .6h4.400V16H0zM5.600 3.800h5v3.400h-5zM11.600 3.800H21l3 3V16h-2.400v-3.400H4.400V8h7.200z"/></svg></div>
<div class="tile" style="left:653.6px;top:398.2px;background:#3d6e3d"><b>006</b><i>ECO</i><span>2</span><svg class="bed" viewBox="0 0 24 16"><path d="M0 .6h4.400V16H0zM5.600 3.800h5v3.400h-5zM11.600 3.800H21l3 3V16h-2.400v-3.400H4.400V8h7.200z"/></svg></div>
<div class="tile" style="left:715.6px;top:398.2px;background:#8f8a89"><b>007</b><i>ECO</i><span>5</span><svg class="bed" viewBox="0 0 24 16"><path d="M0 .6h4.400V16H0zM5.600 3.800h5v3.400h-5zM11.600 3.800H21l3 3V16h-2.400v-3.400H4.400V8h7.200z"/></svg></div>
<div class="tile" style="left:777.5px;top:398.2px;background:#3d6e3d"><b>008</b><i>DLX</i><span>4</span><svg class="bed" viewBox="0 0 24 16"><path d="M0 .6h4.400V16H0zM5.600 3.800h5v3.400h-5zM11.600 3.800H21l3 3V16h-2.400v-3.400H4.400V8h7.200z"/></svg></div>
<div class="tile" style="left:158.2px;top:458.2px;background:#b95457"><b>002</b><i>DLX</i><span>4</span><svg class="bed" viewBox="0 0 24 16"><path d="M0 .6h4.400V16H0zM5.600 3.800h5v3.400h-5zM11.600 3.800H21l3 3V16h-2.400v-3.400H4.400V8h7.200z"/></svg></div>
<div class="tile" style="left:220.1px;top:458.2px;background:#5f4f76"><b>003</b><i>SDLX</i><span>6</span><svg class="bed" viewBox="0 0 24 16"><path d="M0 .6h4.400V16H0zM5.600 3.800h5v3.400h-5zM11.600 3.800H21l3 3V16h-2.400v-3.400H4.400V8h7.200z"/></svg></div>
<div class="tile" style="left:282.1px;top:458.2px;background:#8f8a89"><b>005</b><i>ECO</i><span>3</span><svg class="bed" viewBox="0 0 24 16"><path d="M0 .6h4.400V16H0zM5.600 3.800h5v3.400h-5zM11.600 3.800H21l3 3V16h-2.400v-3.400H4.400V8h7.200z"/></svg></div>
<div class="tile" style="left:344.0px;top:458.2px;background:#3d6e3d"><b>006</b><i>ECO</i><span>2</span><svg class="bed" viewBox="0 0 24 16"><path d="M0 .6h4.400V16H0zM5.600 3.800h5v3.400h-5zM11.600 3.800H21l3 3V16h-2.400v-3.400H4.400V8h7.200z"/></svg></div>
<div class="pinkl"></div>
<div class="lsq" style="left:158.300px;background:#3d6e3d"></div><div class="leg" style="left:166px">Available</div>
<div class="lsq" style="left:201.100px;background:#c45a5e"></div><div class="leg" style="left:209px">Occupied</div>
<div class="lsq" style="left:246.500px;background:#5f4f8a"></div><div class="leg" style="left:253.700px">Pending Entry</div>
<div class="lsq" style="left:304.300px;background:#93844a"></div><div class="leg" style="left:311px">Dusting</div>
<div class="lsq" style="left:340.900px;background:#8f8a89"></div><div class="leg" style="left:348.700px">Maintenance</div>
<div class="hl" style="top:519.100px;left:158px;width:682px;background:#d6d2cc"></div>
<div class="btn"><svg viewBox="0 0 16 16" preserveAspectRatio="none"><circle cx="8" cy="8" r="8" fill="#fbf6ee"/><path d="M4 8.300 7 11.200 12.200 5.400" fill="none" stroke="#c4802c" stroke-width="2.200"/></svg><span>Confirm Check-in</span></div>
</div></div></div></div>
</body></html>
